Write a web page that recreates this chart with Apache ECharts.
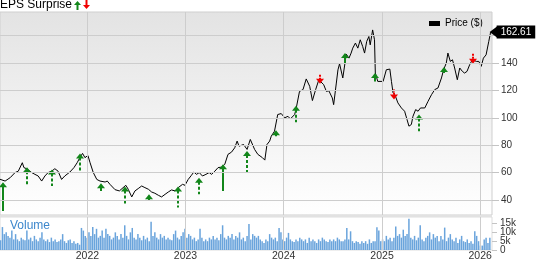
<!DOCTYPE html>
<html><head><meta charset="utf-8">
<script src="https://cdn.jsdelivr.net/npm/echarts@6/dist/echarts.min.js"></script>
<style>html,body{margin:0;padding:0;background:#fff}#c{width:538px;height:262px}</style>
</head><body><div id="c"></div>
<script>
const priceDates = ['2021-02-10','2021-03-01','2021-03-20','2021-04-07','2021-04-19','2021-05-04','2021-05-10','2021-05-20','2021-05-26','2021-06-08','2021-06-20','2021-07-02','2021-07-15','2021-07-27','2021-08-08','2021-08-21','2021-09-02','2021-09-14','2021-09-27','2021-10-09','2021-10-28','2021-11-12','2021-11-24','2021-12-04','2021-12-14','2021-12-23',
'2022-01-03','2022-01-11','2022-01-23','2022-02-05','2022-02-17','2022-03-08','2022-03-16','2022-03-26','2022-04-14','2022-04-30','2022-05-03','2022-05-24','2022-06-02','2022-06-15','2022-06-27','2022-07-09','2022-07-22','2022-08-03','2022-08-16','2022-08-28','2022-09-09','2022-09-22','2022-10-04','2022-10-17','2022-10-29','2022-11-10','2022-11-23','2022-12-05','2022-12-21','2022-12-30',
'2023-01-11','2023-01-23','2023-02-01','2023-02-11','2023-02-21','2023-03-05','2023-03-18','2023-03-30','2023-04-08','2023-04-20','2023-05-02','2023-05-15','2023-05-27','2023-06-08','2023-06-21','2023-07-03','2023-07-12','2023-07-19','2023-08-05','2023-08-18','2023-08-30','2023-09-15','2023-09-27','2023-10-14','2023-10-23','2023-10-31','2023-11-10','2023-11-16','2023-11-28','2023-12-04','2023-12-10','2023-12-23',
'2024-01-05','2024-01-17','2024-01-26','2024-02-11','2024-02-17','2024-02-29','2024-03-13','2024-03-25','2024-04-07','2024-04-17','2024-04-29','2024-05-11','2024-05-29','2024-06-08','2024-06-17','2024-06-30','2024-07-05','2024-07-15','2024-07-21','2024-07-27','2024-08-08','2024-08-15','2024-08-21','2024-08-31','2024-09-08','2024-09-14','2024-09-24','2024-10-03','2024-10-12','2024-10-21','2024-10-28','2024-11-05','2024-11-13','2024-11-18','2024-11-27','2024-12-04','2024-12-07','2024-12-16','2024-12-22',
'2025-01-05','2025-01-17','2025-01-30','2025-02-05','2025-02-11','2025-02-20','2025-03-01','2025-03-14','2025-03-26','2025-04-04','2025-04-11','2025-04-20','2025-04-26','2025-05-06','2025-05-15','2025-05-24','2025-06-09','2025-06-21','2025-07-04','2025-07-16','2025-07-28','2025-08-10','2025-08-18','2025-08-28','2025-09-03','2025-09-12','2025-09-20','2025-09-28','2025-10-08','2025-10-17','2025-10-27','2025-11-04','2025-11-13','2025-11-23','2025-12-03','2025-12-18','2025-12-27',
'2026-01-05','2026-01-13','2026-01-23','2026-02-02','2026-02-09'];
const priceValues = [55.1,53.8,56.3,60.0,61.0,67.2,63.6,62.8,63.6,60.0,58.7,57.5,53.8,57.5,60.0,61.0,62.8,61.0,55.0,57.5,60.4,63.6,67.2,70.9,74.0,70.9,
72.5,67.2,60.0,55.0,53.8,53.1,53.8,51.4,47.5,46.6,47.8,50.7,47.8,42.2,46.6,48.3,50.2,49.0,47.8,45.8,44.9,43.4,42.2,44.1,45.8,47.3,46.6,49.0,51.4,50.7,
55.0,58.0,60.4,58.7,60.0,57.5,58.7,60.0,58.7,61.0,63.6,64.0,66.0,73.3,74.9,78.1,83.0,79.3,80.5,76.9,84.2,76.9,73.3,70.9,69.1,80.5,83.0,86.6,90.2,91.5,102.4,103.1,
100.0,101.1,99.2,102.4,107.2,119.3,120.6,128.4,123.0,112.6,120.6,127.8,124.2,119.3,119.8,114.5,109.6,125.4,135.0,139.5,129.1,127.8,146.5,143.6,147.3,150.9,154.6,150.9,157.0,152.1,147.3,155.8,159.4,153.3,164.2,157.0,132.7,126.6,125.4,
126.6,135.1,135.6,126.6,118.2,115.7,110.9,107.2,104.8,98.7,93.9,95.1,101.1,106.0,104.8,107.2,107.2,112.0,116.9,120.6,121.8,129.1,135.1,140.0,147.3,141.2,142.4,136.4,127.8,136.4,133.9,132.7,133.9,138.8,142.4,141.2,141.2,
137.6,143.6,146.0,155.8,162.61];

// EPS surprise arrows: date, top value, bottom value, kind (0 up solid, 1 up dashed, 2 down)
const epsDates  = ['2021-02-20','2021-05-20','2021-08-21','2021-12-04','2022-02-20','2022-05-21','2022-08-19','2022-12-03','2023-02-20','2023-05-21','2023-08-19','2023-12-03','2024-02-17','2024-05-17','2024-08-17','2024-12-07','2025-02-15','2025-05-18','2025-08-18','2025-12-05'];
const epsTop    = [52.9,63.8,62.3,74.0,52.2,49.8,44.1,49.8,56.3,66.0,75.7,91.0,108.9,131.5,147.3,132.7,120.6,102.4,137.1,146.8];
const epsBottom = [32.0,51.4,50.2,60.4,46.6,36.9,39.3,34.5,44.1,46.6,59.4,86.6,96.8,124.9,140.0,126.6,113.3,90.2,132.7,139.5];
const epsKind   = [0,1,1,1,0,1,1,1,1,0,1,1,1,2,0,0,2,1,0,2];

// weekly volume (thousands), first week starting 2021-02-12
const volumeStart = '2021-02-12';
const volumeK = [5.5,13,9,10,8,7,11,6, 9,6,5,7,6,5.5,11,6, 7,5,8,6,5,7,10,6, 5,6,4.5,7,5,6,4.5,5, 6,9,5,4,5.5,6,4,5,
3.5,4,3,12.5,11,8,7, 10,8,13,9,12,7,8, 11,7,12,9,8,6,7,10, 8,6,9,7,14, 8,6,10,12.5,7,6,9,7, 5.5,8,6,7,5,16,
8,10,7,6,9,7,8,6, 7,6,5.5,9,11,7,6,8, 10,12,7,9,8,6,7,5, 6,12,7,5,6,5,7,6, 8,6,7,5.5,9,14,7,6, 8,7,9,6,8,7,10,6,
7,5,8,14.7,6,9,8,7, 8,6,5,4,6,5,9,7, 6,7,5,12.4,10,6,5,7, 9.7,6,5,4.5,6,5,7,6, 5,6,4,7,5,6,5,4, 6,5,7,6,5,4.5,6,5,
6,5,7,6,5,5,6,12.4, 6,10.6,5,4,5,4.5,3.5,5, 4,5,3.5,6,4,5,5,12.9, 11,5,6,5,8,6,7,5, 7,13.3,8,9,7,11.5,8,9,17.7,
7,6,8,5.5,7,14,6,5, 7,8,10,6,9,7,8,5, 8,6,12.7,5,7,9,6,5, 7,4,6,8,5,4.5,6,4, 5,3.5,10.6,8, 5,2.5,2.5,6,7,4,7];

const priceTicks = [40,60,80,100,120,140,160];
const volumeTicksA = [0,10];
const volumeTicksB = [5,15];
const yearTicks = ['2022-01-01','2023-01-01','2024-01-01','2025-01-01','2026-01-01'];
const xMin = '2021-02-10', xMax = '2026-02-14';

const FONT = 'Liberation Sans, Arial, sans-serif';
const ts = d => +echarts.time.parse(d);
const priceData = priceDates.map((d, i) => [ts(d), priceValues[i]]);
const epsData = epsDates.map((d, i) => [ts(d), epsTop[i], epsBottom[i], epsKind[i]]);
const startTs = ts(volumeStart);
const volumeData = volumeK.map((v, i) => [startTs + i * 7 * 86400000, v]);
const yearTs = yearTicks.map(ts);
const last = priceData[priceData.length - 1];

const volAxis = ticks => ({type: 'value', gridIndex: 1, position: 'right', offset: 0, min: 0, max: 18.7, axisLine: {show: false}, splitLine: {show: false},
  axisTick: {show: true, customValues: ticks, length: 5, lineStyle: {color: '#c4c4c4'}},
  axisLabel: {customValues: ticks, fontSize: 10, color: '#333', margin: 8, fontFamily: FONT,
    showMinLabel: true, showMaxLabel: true, formatter: v => v === 0 ? '0' : v + 'k'}});

const chart = echarts.init(document.getElementById('c'), null, {renderer: 'canvas'});
chart.setOption({
  animation: false,
  textStyle: {fontFamily: FONT},
  grid: [
    {left: 0, right: 46, top: 12, height: 203, show: true, borderColor: '#cfcfcf', borderWidth: 1,
     backgroundColor: {type: 'linear', x: 0, y: 0, x2: 0, y2: 1, colorStops: [{offset: 0, color: '#e3e3e3'}, {offset: 1, color: '#ffffff'}]}},
    {left: 0, right: 46, top: 217, height: 35, show: true, borderColor: '#dddddd', borderWidth: 1, backgroundColor: '#ffffff'}
  ],
  xAxis: [
    {type: 'value', gridIndex: 0, min: ts(xMin), max: ts(xMax), axisLine: {show: false}, axisTick: {show: false}, axisLabel: {show: false}, splitLine: {show: false}},
    {type: 'value', gridIndex: 1, min: ts(xMin), max: ts(xMax), axisLine: {show: false}, axisTick: {show: false}, splitLine: {show: false},
     axisLabel: {show: true, customValues: yearTs, formatter: v => String(new Date(v).getFullYear()), fontSize: 10.5, color: '#333', margin: 1, fontFamily: FONT}}
  ],
  yAxis: [
    {type: 'value', gridIndex: 0, position: 'right', min: 29, max: 177.3, axisLine: {show: false}, splitLine: {show: false},
     axisTick: {show: true, customValues: priceTicks, length: 7, lineStyle: {color: '#c4c4c4'}},
     axisLabel: {customValues: priceTicks, fontSize: 10, color: '#333', margin: 9, fontFamily: FONT}},
    volAxis(volumeTicksA),
    volAxis(volumeTicksB)
  ],
  series: [
    {type: 'line', xAxisIndex: 0, yAxisIndex: 0, data: [], z: 1, silent: true,
     markLine: {silent: true, symbol: ['none', 'none'], label: {show: false}, animation: false,
       lineStyle: {color: '#cdcdcd', width: 1, type: 'solid'},
       data: priceTicks.map(v => ({yAxis: v})).concat(yearTs.map(d => ({xAxis: d})))}},
    {type: 'line', xAxisIndex: 1, yAxisIndex: 1, data: [], z: 1, silent: true,
     markLine: {silent: true, symbol: ['none', 'none'], label: {show: false}, animation: false,
       lineStyle: {color: '#cdcdcd', width: 1, type: 'solid'},
       data: yearTs.map(d => ({xAxis: d}))}},
    {type: 'bar', xAxisIndex: 1, yAxisIndex: 1, data: volumeData, barWidth: 1.5, z: 2,
     itemStyle: {color: '#6aa4dc'}},
    {type: 'line', xAxisIndex: 0, yAxisIndex: 0, data: priceData, showSymbol: false, z: 3,
     lineStyle: {color: '#000', width: 1}, clip: false,
     endLabel: {show: true, formatter: p => p.value[1].toFixed(2), backgroundColor: '#000', color: '#fff',
       fontSize: 10, fontFamily: FONT, padding: [1, 4, 1, 4], lineHeight: 11, distance: 6},
     markPoint: {silent: true, symbol: 'triangle', symbolRotate: 90, symbolSize: [12, 8], symbolOffset: [3, 0],
       itemStyle: {color: '#000'}, label: {show: false}, data: [{coord: last}]}},
    {type: 'custom', xAxisIndex: 0, yAxisIndex: 0, data: epsData, z: 4, silent: true,
     encode: {x: 0, y: [1, 2]},
     renderItem: (params, api) => {
       const d = api.value(0);
       const t = api.coord([d, api.value(1)]);
       const b = api.coord([d, api.value(2)]);
       const kind = api.value(3);
       const x = Math.round(t[0]);
       if (kind < 2) {
         const c = '#12861a';
         return {type: 'group', children: [
           {type: 'line', shape: {x1: x, y1: t[1] + 4, x2: x, y2: b[1]}, style: {stroke: c, lineWidth: 2, lineDash: kind === 1 ? [3, 2] : null}},
           {type: 'polygon', shape: {points: [[x, t[1]], [x - 4, t[1] + 5], [x + 4, t[1] + 5]]}, style: {fill: c}}
         ]};
       }
       const c = '#f00000';
       return {type: 'group', children: [
         {type: 'line', shape: {x1: x, y1: t[1], x2: x, y2: b[1] - 4}, style: {stroke: c, lineWidth: 2, lineDash: [2, 1]}},
         {type: 'polygon', shape: {points: [[x, b[1]], [x - 4, b[1] - 5], [x + 4, b[1] - 5]]}, style: {fill: c}}
       ]};
     }}
  ],
  graphic: [
    {type: 'rect', left: 0, top: 215, shape: {width: 492, height: 2}, style: {fill: '#e2e2e2'}, z: 10},
    {type: 'text', left: 0, top: -1, style: {text: 'EPS Surprise', font: '12px ' + FONT, fill: '#000'}},
    {type: 'group', left: 74, top: 1, children: [
      {type: 'polygon', shape: {points: [[3.5, 0], [0, 4], [7, 4]]}, style: {fill: '#12861a'}},
      {type: 'rect', shape: {x: 2.5, y: 4, width: 2, height: 5}, style: {fill: '#12861a'}}
    ]},
    {type: 'group', left: 83, top: 0, children: [
      {type: 'rect', shape: {x: 2.5, y: 0, width: 2, height: 5}, style: {fill: '#f00000'}},
      {type: 'polygon', shape: {points: [[3.5, 9], [0, 5], [7, 5]]}, style: {fill: '#f00000'}}
    ]},
    {type: 'rect', left: 429, top: 21, shape: {width: 11, height: 5}, style: {fill: '#000'}},
    {type: 'text', left: 445, top: 18, style: {text: 'Price ($)', font: '10px ' + FONT, fill: '#000'}},
    {type: 'text', left: 10, top: 220, style: {text: 'Volume', font: '12px ' + FONT, fill: '#3d87cc'}}
  ]
});
</script>
</body></html>
